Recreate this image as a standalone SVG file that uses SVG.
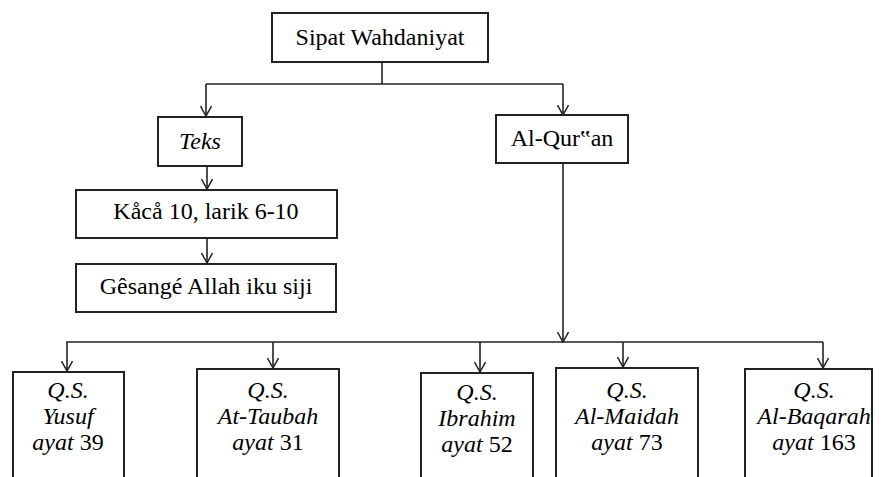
<svg xmlns="http://www.w3.org/2000/svg" width="884" height="477" viewBox="0 0 884 477">
<defs>
<marker id="ah" markerWidth="12" markerHeight="12" refX="11" refY="6" orient="auto" markerUnits="userSpaceOnUse" viewBox="0 0 12 12">
<path d="M1,0.5 L11,6 L1,11.5" fill="none" stroke="#222" stroke-width="1.5"/>
</marker>
</defs>
<rect width="884" height="477" fill="#fff"/>
<g id="connectors" fill="none" stroke="#222" stroke-width="1.6">
<line x1="382" y1="62" x2="382" y2="84"/>
<line x1="206" y1="84" x2="563" y2="84"/>
<path d="M206,84 V116" marker-end="url(#ah)"/>
<path d="M563,84 V115" marker-end="url(#ah)"/>
<path d="M207,166 V189" marker-end="url(#ah)"/>
<path d="M207,238 V263" marker-end="url(#ah)"/>
<path d="M563,163 V342" marker-end="url(#ah)"/>
<line x1="66" y1="342" x2="823" y2="342"/>
<path d="M67,342 V371" marker-end="url(#ah)"/>
<path d="M273,342 V368" marker-end="url(#ah)"/>
<path d="M480,342 V372" marker-end="url(#ah)"/>
<path d="M623,342 V367" marker-end="url(#ah)"/>
<path d="M823,342 V368" marker-end="url(#ah)"/>
</g>
<g id="sipat">
<rect x="272" y="13" width="216" height="49" fill="#fff" stroke="#222" stroke-width="2"/>
<text x="380" y="45" font-family="Liberation Serif" style="font-family:'Liberation Serif',serif !important;font-size:24px" text-anchor="middle">Sipat Wahdaniyat</text>
</g>
<g id="teks">
<rect x="158" y="117" width="84" height="49" fill="#fff" stroke="#222" stroke-width="2"/>
<text x="200" y="149" font-family="Liberation Serif" style="font-family:'Liberation Serif',serif !important;font-size:24px;font-style:italic" text-anchor="middle">Teks</text>
</g>
<g id="kaca">
<rect x="76" y="190" width="261" height="48" fill="#fff" stroke="#222" stroke-width="2"/>
<text x="206" y="219" font-family="Liberation Serif" style="font-family:'Liberation Serif',serif !important;font-size:24px" text-anchor="middle">K&#229;c&#229; 10, larik 6-10</text>
</g>
<g id="gesange">
<rect x="76" y="264" width="260" height="48" fill="#fff" stroke="#222" stroke-width="2"/>
<text x="206" y="294" font-family="Liberation Serif" style="font-family:'Liberation Serif',serif !important;font-size:24px" text-anchor="middle">G&#234;sang&#233; Allah iku siji</text>
</g>
<g id="alquran">
<rect x="496" y="115" width="132" height="48" fill="#fff" stroke="#222" stroke-width="2"/>
<text x="562" y="146" font-family="Liberation Serif" style="font-family:'Liberation Serif',serif !important;font-size:24px" text-anchor="middle">Al-Qur&#8223;an</text>
</g>
<g id="yusuf">
<rect x="13" y="372" width="111" height="120" fill="#fff" stroke="#222" stroke-width="2"/>
<text x="68" y="398" font-family="Liberation Serif" style="font-family:'Liberation Serif',serif !important;font-size:24px;font-style:italic" text-anchor="middle">Q.S.</text>
<text x="68" y="424" font-family="Liberation Serif" style="font-family:'Liberation Serif',serif !important;font-size:24px;font-style:italic" text-anchor="middle">Yusuf</text>
<text x="68" y="450" font-family="Liberation Serif" style="font-family:'Liberation Serif',serif !important;font-size:24px" text-anchor="middle"><tspan style="font-style:italic">ayat</tspan> 39</text>
</g>
<g id="taubah">
<rect x="197" y="369" width="142" height="123" fill="#fff" stroke="#222" stroke-width="2"/>
<text x="268" y="398" font-family="Liberation Serif" style="font-family:'Liberation Serif',serif !important;font-size:24px;font-style:italic" text-anchor="middle">Q.S.</text>
<text x="268" y="424" font-family="Liberation Serif" style="font-family:'Liberation Serif',serif !important;font-size:24px;font-style:italic" text-anchor="middle">At-Taubah</text>
<text x="268" y="450" font-family="Liberation Serif" style="font-family:'Liberation Serif',serif !important;font-size:24px" text-anchor="middle"><tspan style="font-style:italic">ayat</tspan> 31</text>
</g>
<g id="ibrahim">
<rect x="421" y="373" width="112" height="119" fill="#fff" stroke="#222" stroke-width="2"/>
<text x="477" y="400" font-family="Liberation Serif" style="font-family:'Liberation Serif',serif !important;font-size:24px;font-style:italic" text-anchor="middle">Q.S.</text>
<text x="477" y="426" font-family="Liberation Serif" style="font-family:'Liberation Serif',serif !important;font-size:24px;font-style:italic" text-anchor="middle">Ibrahim</text>
<text x="477" y="452" font-family="Liberation Serif" style="font-family:'Liberation Serif',serif !important;font-size:24px" text-anchor="middle"><tspan style="font-style:italic">ayat</tspan> 52</text>
</g>
<g id="maidah">
<rect x="556" y="368" width="142" height="124" fill="#fff" stroke="#222" stroke-width="2"/>
<text x="627" y="398" font-family="Liberation Serif" style="font-family:'Liberation Serif',serif !important;font-size:24px;font-style:italic" text-anchor="middle">Q.S.</text>
<text x="627" y="424" font-family="Liberation Serif" style="font-family:'Liberation Serif',serif !important;font-size:24px;font-style:italic" text-anchor="middle">Al-Maidah</text>
<text x="627" y="450" font-family="Liberation Serif" style="font-family:'Liberation Serif',serif !important;font-size:24px" text-anchor="middle"><tspan style="font-style:italic">ayat</tspan> 73</text>
</g>
<g id="baqarah">
<rect x="745" y="369" width="127" height="123" fill="#fff" stroke="#222" stroke-width="2"/>
<text x="814" y="398" font-family="Liberation Serif" style="font-family:'Liberation Serif',serif !important;font-size:24px;font-style:italic" text-anchor="middle">Q.S.</text>
<text x="814" y="424" font-family="Liberation Serif" style="font-family:'Liberation Serif',serif !important;font-size:24px;font-style:italic" text-anchor="middle">Al-Baqarah</text>
<text x="814" y="450" font-family="Liberation Serif" style="font-family:'Liberation Serif',serif !important;font-size:24px" text-anchor="middle"><tspan style="font-style:italic">ayat</tspan> 163</text>
</g>
</svg>
